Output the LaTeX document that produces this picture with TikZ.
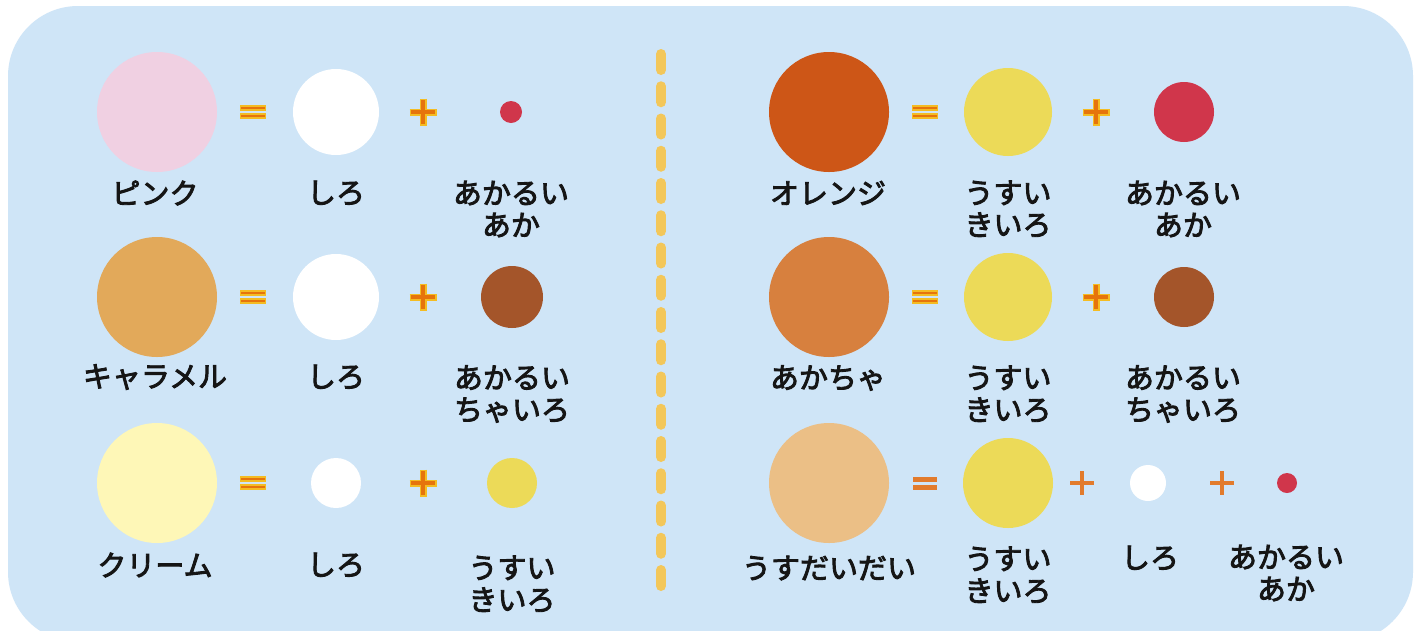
\documentclass[tikz,border=0pt]{standalone}
\usepackage{fontspec}
\newfontfamily\jp{Noto Sans CJK JP}[FakeBold=3]
\definecolor{boxbg}{HTML}{CFE5F7}
\definecolor{pinkc}{HTML}{F0D0E2}
\definecolor{caramel}{HTML}{E2A95A}
\definecolor{cream}{HTML}{FEF7B7}
\definecolor{orangec}{HTML}{CD5617}
\definecolor{akacha}{HTML}{D7803E}
\definecolor{usudaidai}{HTML}{EBBF86}
\definecolor{kiiro}{HTML}{ECDA58}
\definecolor{aka}{HTML}{D0364B}
\definecolor{chairo}{HTML}{A4552A}
\definecolor{dashc}{HTML}{F3C75A}
\definecolor{symgold}{HTML}{F4BC22}
\definecolor{symcore}{HTML}{E6740C}
\definecolor{symorange}{HTML}{E27B2C}
\definecolor{txt}{HTML}{151515}
\begin{document}
\begin{tikzpicture}[x=1pt,y=-1pt,
  dot/.style={circle,inner sep=0pt,draw=none,minimum size=#1},
  lbl/.style={font=\jp\fontsize{29}{32}\selectfont,align=center,text=txt,inner sep=0pt},
  eqsign/.pic={
    \draw[line width=5.5pt,symgold] (-13,-4)--(13,-4) (-13,4)--(13,4);
    \draw[line width=2.5pt,symcore] (-12,-4)--(12,-4) (-12,4)--(12,4);},
  plussign/.pic={
    \draw[line width=7pt,symgold] (-13.5,0)--(13.5,0) (0,-13.5)--(0,13.5);
    \draw[line width=3.5pt,symcore] (-12,0)--(12,0) (0,-12)--(0,12);},
  eqsignb/.pic={
    \draw[line width=5pt,symorange] (-12,-4)--(12,-4) (-12,4)--(12,4);},
  plussignb/.pic={
    \draw[line width=4.5pt,symorange] (-12,0)--(12,0) (0,-12)--(0,12);},
]
\useasboundingbox (0,0) rectangle (1415,630);
\fill[white] (0,0) rectangle (1415,630);
\begin{scope}
  \clip (0,0) rectangle (1415,630);
  \fill[boxbg,rounded corners=70pt] (8,6) rectangle (1413,642);
\end{scope}
% divider
\draw[dashc,line width=10pt,line cap=round,dash pattern=on 16pt off 16.25pt] (661,54) -- (661,586);

% ---------- left column ----------
% row 1
\node[dot=120pt,fill=pinkc] (pink) at (157,112) {};
\node[dot=86pt,fill=white] (w1) at (336,112) {};
\node[dot=22pt,fill=aka] (r1) at (511,112) {};
\pic at (253,112) {eqsign};
\pic at (423,112) {plussign};
\node[lbl] (lpink) at (155,193) {ピンク};
\node[lbl] (lw1) at (336,193) {しろ};
\node[lbl] (lr1) at (511,209) {あかるい\\あか};
% row 2
\node[dot=120pt,fill=caramel] (cara) at (157,297) {};
\node[dot=86pt,fill=white] (w2) at (336,297) {};
\node[dot=62pt,fill=chairo] (b2) at (512,297) {};
\pic at (253,297) {eqsign};
\pic at (423,297) {plussign};
\node[lbl] (lcara) at (155,377) {キャラメル};
\node[lbl] (lw2) at (336,377) {しろ};
\node[lbl] (lb2) at (512,394) {あかるい\\ちゃいろ};
% row 3
\node[dot=120pt,fill=cream] (crm) at (157,483) {};
\node[dot=50pt,fill=white] (w3) at (336,483) {};
\node[dot=50pt,fill=kiiro] (y3) at (512,483) {};
\pic at (253,483) {eqsign};
\pic at (423,483) {plussign};
\node[lbl] (lcrm) at (155,565) {クリーム};
\node[lbl] (lw3) at (336,565) {しろ};
\node[lbl] (ly3) at (512,584) {うすい\\きいろ};

% ---------- right column ----------
% row 1
\node[dot=120pt,fill=orangec] (ora) at (829,112) {};
\node[dot=88pt,fill=kiiro] (y4) at (1008,112) {};
\node[dot=60pt,fill=aka] (r4) at (1184,112) {};
\pic at (925,112) {eqsign};
\pic at (1096,112) {plussign};
\node[lbl] (lora) at (828,193) {オレンジ};
\node[lbl] (ly4) at (1008,209) {うすい\\きいろ};
\node[lbl] (lr4) at (1183,209) {あかるい\\あか};
% row 2
\node[dot=120pt,fill=akacha] (akc) at (829,297) {};
\node[dot=88pt,fill=kiiro] (y5) at (1008,297) {};
\node[dot=60pt,fill=chairo] (b5) at (1184,297) {};
\pic at (925,297) {eqsign};
\pic at (1096,297) {plussign};
\node[lbl] (lakc) at (828,378) {あかちゃ};
\node[lbl] (ly5) at (1008,394) {うすい\\きいろ};
\node[lbl] (lb5) at (1183,394) {あかるい\\ちゃいろ};
% row 3
\node[dot=120pt,fill=usudaidai] (usd) at (829,483) {};
\node[dot=90pt,fill=kiiro] (y6) at (1008,483) {};
\node[dot=36pt,fill=white] (w6) at (1148,483) {};
\node[dot=20pt,fill=aka] (r6) at (1287,483) {};
\pic at (925,483) {eqsignb};
\pic at (1082,483) {plussignb};
\pic at (1222,483) {plussignb};
\node[lbl] (lusd) at (829,568) {うすだいだい};
\node[lbl] (ly6) at (1008,575) {うすい\\きいろ};
\node[lbl] (lw6) at (1150,558) {しろ};
\node[lbl] (lr6) at (1286,573) {あかるい\\あか};
\end{tikzpicture}
\end{document}
